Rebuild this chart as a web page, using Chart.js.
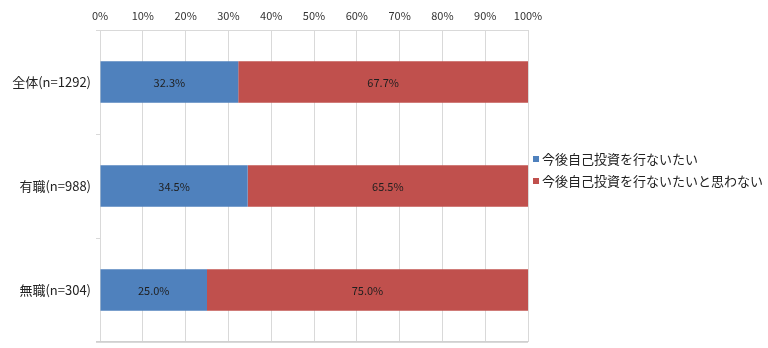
<!DOCTYPE html>
<html><head><meta charset="utf-8">
<script src="https://cdn.jsdelivr.net/npm/chart.js@4/dist/chart.umd.min.js"></script>
<style>
html,body{margin:0;padding:0;background:#fff;}
#wrap{position:relative;width:768px;height:348px;}
#legend{position:absolute;left:533px;top:148px;font-family:"Noto Sans CJK JP",sans-serif;font-size:13px;color:#222;line-height:22px;}
#legend span.sq{display:inline-block;width:6px;height:6px;margin-right:3px;vertical-align:middle;position:relative;top:-1px;}
</style></head><body>
<div id="wrap"><canvas id="c" width="768" height="348"></canvas>
<div id="legend"></div></div>
<script>
const categories = ["全体(n=1292)", "有職(n=988)", "無職(n=304)"];
const seriesNames = ["今後自己投資を行ないたい", "今後自己投資を行ないたいと思わない"];
const wantValues = [32.3, 34.5, 25.0];
const notWantValues = [67.7, 65.5, 75.0];
const colors = ["#4F81BD", "#C0504D"];

const fontFam = '"Noto Sans CJK JP", "Noto Sans", sans-serif';

const labelPlugin = {
  id: 'segLabels',
  beforeDatasetsDraw(chart) {
    const ctx = chart.ctx, a = chart.chartArea;
    ctx.save();
    ctx.strokeStyle = '#d0d0d0';
    ctx.lineWidth = 1;
    ctx.beginPath();
    ctx.moveTo(a.left - 4, Math.round(a.bottom) - 0.5);
    ctx.lineTo(a.right, Math.round(a.bottom) - 0.5);
    ctx.stroke();
    ctx.restore();
  },
  afterDatasetsDraw(chart) {
    const ctx = chart.ctx;
    ctx.save();
    ctx.font = '11px ' + fontFam;
    ctx.fillStyle = '#1f1f1f';
    ctx.textAlign = 'center';
    ctx.textBaseline = 'middle';
    chart.data.datasets.forEach((ds, di) => {
      const meta = chart.getDatasetMeta(di);
      meta.data.forEach((bar, i) => {
        const x = (bar.x + bar.base) / 2;
        ctx.fillText(ds.data[i].toFixed(1) + '%', x, bar.y + 1);
      });
    });
    ctx.restore();
  }
};

new Chart(document.getElementById('c'), {
  type: 'bar',
  data: {
    labels: categories,
    datasets: [
      { label: seriesNames[0], data: wantValues, backgroundColor: colors[0] },
      { label: seriesNames[1], data: notWantValues, backgroundColor: colors[1] }
    ]
  },
  options: {
    indexAxis: 'y',
    responsive: false,
    animation: false,
    events: [],
    layout: { padding: { left: 0, right: 240, top: 0, bottom: 6 } },
    plugins: { legend: { display: false }, tooltip: { enabled: false } },
    datasets: { bar: { barPercentage: 1, categoryPercentage: 0.4 } },
    scales: {
      x: {
        position: 'top', stacked: true, min: 0, max: 100,
        ticks: { stepSize: 10, callback: v => v + '%', color: '#333', font: { family: fontFam, size: 11 }, padding: 8 },
        grid: { color: '#d9d9d9', drawTicks: false },
        border: { color: '#d9d9d9' },
        afterFit(s) { s.height = 30; s.paddingLeft = 0; s.paddingRight = 0; }
      },
      y: {
        stacked: true,
        ticks: { color: '#222', font: { family: fontFam, size: 13 }, padding: 5 },
        grid: { offset: true, color: c => (c.index === 1 || c.index === 2) ? 'rgba(0,0,0,0)' : '#d9d9d9', tickColor: '#d9d9d9', tickLength: 4 },
        border: { color: '#d9d9d9' },
        afterFit(s) { s.width = 100; s.paddingTop = 0; s.paddingBottom = 0; }
      }
    }
  },
  plugins: [labelPlugin]
});

const lg = document.getElementById('legend');
seriesNames.forEach((n, i) => {
  const d = document.createElement('div');
  d.innerHTML = '<span class="sq" style="background:' + colors[i] + '"></span>' + n;
  lg.appendChild(d);
});
</script>
</body></html>
